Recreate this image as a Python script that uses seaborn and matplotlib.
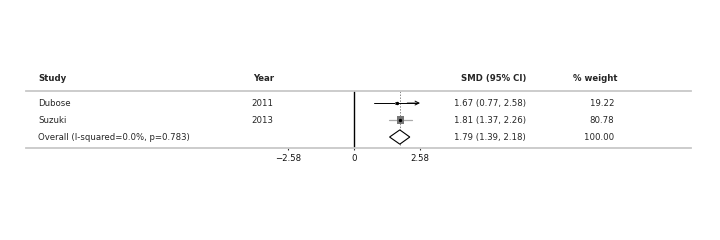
import matplotlib
matplotlib.use("Agg")
import matplotlib.pyplot as plt
import matplotlib.transforms as mtransforms
from matplotlib.patches import Polygon
import seaborn as sns
import pandas as pd

# Data
studies = ["Dubose", "Suzuki"]
years = ["2011", "2013"]
smd = [1.67, 1.81]
ci_low = [0.77, 1.37]
ci_high = [2.58, 2.26]
weights = [19.22, 80.78]
overall_label = "Overall (I-squared=0.0%, p=0.783)"
overall_smd = 1.79
overall_low = 1.39
overall_high = 2.18
overall_weight = 100.00
tick_values = [-2.58, 0, 2.58]
tick_labels = ["\u22122.58", "0", "2.58"]

sns.set_theme(style="white")
plt.rcParams['font.family'] = ['Liberation Sans Narrow', 'DejaVu Sans']
plt.rcParams['font.stretch'] = 'condensed'

fig = plt.figure(figsize=(7.2, 2.4), dpi=100)
ax = fig.add_axes([0.0361, 0.3833, 0.9236, 0.2375])
ax.set_xlim(-12.82, 13.17)
ax.set_ylim(0.353, 3.71)

rows = [3, 2]
df = pd.DataFrame({"study": studies, "smd": smd, "lo": ci_low, "hi": ci_high,
                   "w": weights, "row": rows})

# zero line and overall effect line
ax.axvline(0, color="black", lw=1.0, zorder=2)
ax.axvline(overall_smd, color="#888888", lw=0.7, ls=(0, (1.5, 1.5)), zorder=1)

# confidence intervals
for _, r in df.iterrows():
    if r["hi"] >= tick_values[-1]:
        ax.plot([r["lo"], r["hi"] - 0.1], [r["row"], r["row"]], color="black", lw=0.7, zorder=3)
        ax.annotate("", xy=(r["hi"], r["row"]), xytext=(r["hi"] - 0.5, r["row"]),
                    arrowprops=dict(arrowstyle="->", color="black", lw=0.7,
                                    mutation_scale=7, shrinkA=0, shrinkB=0), zorder=3)
    else:
        ax.plot([r["lo"], r["hi"]], [r["row"], r["row"]], color="#aaaaaa", lw=0.9, zorder=3)

# weighted boxes
sns.scatterplot(data=df, x="smd", y="row", size="w", sizes=(5, 30), marker="s",
                color="#777777", edgecolor="none", legend=False, ax=ax, zorder=4)
ax.scatter(df["smd"], df["row"], s=2, color="black", zorder=5)
ax.set_xlabel("")
ax.set_ylabel("")

# overall diamond
h = 0.42
ax.add_patch(Polygon([(overall_low, 1), (overall_smd, 1 + h), (overall_high, 1),
                      (overall_smd, 1 - h)], closed=True, facecolor="white",
                     edgecolor="black", lw=0.8, zorder=4))

# frame
for s in ["left", "right"]:
    ax.spines[s].set_visible(False)
for s in ["top", "bottom"]:
    ax.spines[s].set_color("#c8c8c8")
    ax.spines[s].set_linewidth(1.3)
ax.set_yticks([])
ax.set_xticks(tick_values)
ax.set_xticklabels(tick_labels)
ax.tick_params(axis="x", length=1.5, width=0.8, color="#333333", pad=3,
               labelsize=6.8, labelcolor="#111111", direction="out", bottom=True)

# table text
tr = mtransforms.blended_transform_factory(fig.transFigure, ax.transData)
fs = 6.8
hy = 4.47
ax.text(0.053, hy, "Study", transform=tr, ha="left", va="center", fontsize=fs, fontweight="bold", clip_on=False)
ax.text(0.351, hy, "Year", transform=tr, ha="left", va="center", fontsize=fs, fontweight="bold", clip_on=False)
ax.text(0.7306, hy, "SMD (95% CI)", transform=tr, ha="right", va="center", fontsize=fs, fontweight="bold", clip_on=False)
ax.text(0.857, hy, "% weight", transform=tr, ha="right", va="center", fontsize=fs, fontweight="bold", clip_on=False)

for _, r in df.iterrows():
    ax.text(0.053, r["row"], r["study"], transform=tr, ha="left", va="center", fontsize=fs)
for yr, row in zip(years, rows):
    ax.text(0.349, row, yr, transform=tr, ha="left", va="center", fontsize=fs)
for _, r in df.iterrows():
    ax.text(0.7306, r["row"], f"{r['smd']:.2f} ({r['lo']:.2f}, {r['hi']:.2f})",
            transform=tr, ha="right", va="center", fontsize=fs)
    ax.text(0.853, r["row"], f"{r['w']:.2f}", transform=tr, ha="right", va="center", fontsize=fs)
ax.text(0.053, 1, overall_label, transform=tr, ha="left", va="center", fontsize=fs)
ax.text(0.7306, 1, f"{overall_smd:.2f} ({overall_low:.2f}, {overall_high:.2f})",
        transform=tr, ha="right", va="center", fontsize=fs)
ax.text(0.853, 1, f"{overall_weight:.2f}", transform=tr, ha="right", va="center", fontsize=fs)

fig.savefig("out.png", dpi=100, facecolor="white")
